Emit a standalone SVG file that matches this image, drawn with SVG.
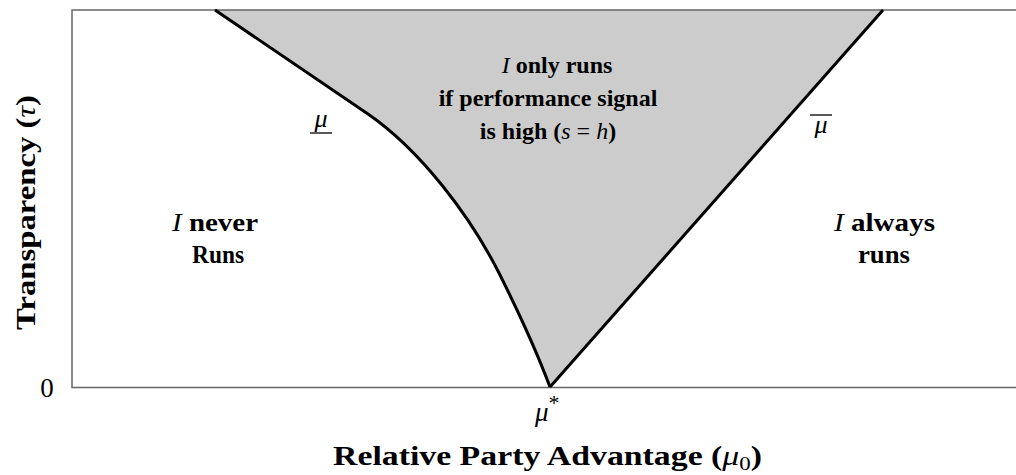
<svg xmlns="http://www.w3.org/2000/svg" width="1016" height="475" viewBox="0 0 1016 475">
<style>
.t{font-family:"Liberation Serif","DejaVu Serif",serif;fill:#000}
.b{font-weight:bold}
.i{font-style:italic;font-weight:normal}
.lab{font-size:24px}
.side{font-size:25px}
.ax{font-size:28px;font-weight:bold}
.frame{fill:none;stroke:#666;stroke-width:1.5}
.bd{fill:none;stroke:#000;stroke-width:3;stroke-linejoin:round}
</style>
<rect width="1016" height="475" fill="#fff"/>
<g id="region-mixed">
<path d="M215,10 L368,114 C420,150 470,215 500,275 C520,315 538,355 550,387 L883,10 Z" fill="#cccccc"/>
</g>
<g id="frame">
<path class="frame" d="M1016,10 L72,10 L72,387.5 L1016,387.5"/>
</g>
<g id="connectors">
<path id="mu-low" class="bd" d="M215,10 L368,114 C420,150 470,215 500,275 C520,315 538,355 550,387"/>
<path id="mu-high" class="bd" d="M550,387 L883,10"/>
</g>
<g id="label-mid">
<text class="t b lab" text-anchor="middle" x="557" y="73"><tspan class="i">I</tspan> only runs</text>
<text class="t b lab" text-anchor="middle" x="548" y="106">if performance signal</text>
<text class="t b lab" text-anchor="middle" x="548" y="139">is high (<tspan class="i">s</tspan> <tspan font-weight="normal">=</tspan> <tspan class="i">h</tspan>)</text>
</g>
<g id="label-never">
<text class="t b side" x="172" y="231" textLength="86" lengthAdjust="spacingAndGlyphs"><tspan class="i">I</tspan> never</text>
<text class="t b side" x="192" y="263" textLength="52" lengthAdjust="spacingAndGlyphs">Runs</text>
</g>
<g id="label-always">
<text class="t b side" x="834" y="231" textLength="101" lengthAdjust="spacingAndGlyphs"><tspan class="i">I</tspan> always</text>
<text class="t b side" x="858" y="263" textLength="52" lengthAdjust="spacingAndGlyphs">runs</text>
</g>
<g id="label-mu-low">
<text class="t i" font-size="26" text-anchor="middle" x="321" y="127">μ</text>
<line x1="310" y1="133" x2="332" y2="133" stroke="#000" stroke-width="1.3"/>
</g>
<g id="label-mu-high">
<text class="t i" font-size="26" text-anchor="middle" x="821" y="133">μ</text>
<line x1="810" y1="115" x2="832" y2="115" stroke="#000" stroke-width="1.3"/>
</g>
<g id="ticks">
<text class="t" font-size="27" text-anchor="middle" x="47" y="397">0</text>
<text class="t i" font-size="27" x="535" y="421">μ<tspan font-style="normal" font-size="22" dy="-11">*</tspan></text>
</g>
<g id="axis-titles">
<text class="t ax" x="333" y="465" textLength="429" lengthAdjust="spacingAndGlyphs">Relative Party Advantage (<tspan class="i">μ</tspan><tspan font-weight="normal" font-size="19" dy="5">0</tspan><tspan dy="-5">)</tspan></text>
<text class="t ax" transform="translate(35,330) rotate(-90)" textLength="235" lengthAdjust="spacingAndGlyphs">Transparency (<tspan class="i">τ</tspan>)</text>
</g>
</svg>
